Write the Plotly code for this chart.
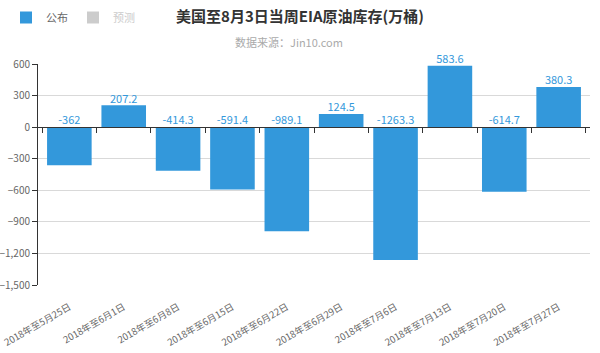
import plotly.graph_objects as go

categories = ["2018年至5月25日", "2018年至6月1日", "2018年至6月8日", "2018年至6月15日",
              "2018年至6月22日", "2018年至6月29日", "2018年至7月6日", "2018年至7月13日",
              "2018年至7月20日", "2018年至7月27日"]
published = [-362, 207.2, -414.3, -591.4, -989.1, 124.5, -1263.3, 583.6, -614.7, 380.3]
forecast = [None] * len(categories)
y_ticks = [600, 300, 0, -300, -600, -900, -1200, -1500]

BLUE = "#3398DB"
FONT = "Noto Sans CJK SC"
ymin, ymax = -1500, 600
L, R, T, B = 38, 10, 64, 68
PW, PH = 600 - L - R, 353 - T - B

fig = go.Figure()
fig.add_trace(go.Bar(x=categories, y=published, name="公布", marker_color=BLUE,
                     marker_line_width=0, hoverinfo="x+y"))
fig.add_trace(go.Bar(x=categories, y=forecast, name="<span style='color:#cccccc'>预测</span>",
                     marker_color="#cccccc", marker_line_width=0))
fig.add_trace(go.Scatter(x=categories, y=[max(v, 0) for v in published],
                         text=[f"{v:g}" for v in published], mode="text",
                         textposition="top center", cliponaxis=False,
                         textfont=dict(color=BLUE, size=11, family=FONT),
                         showlegend=False, hoverinfo="skip"))
# axis with ticks drawn on the zero line
fig.add_trace(go.Scatter(x=categories, y=[None] * len(categories), xaxis="x2",
                         showlegend=False, hoverinfo="skip"))

fig.update_layout(
    width=600, height=353,
    margin=dict(l=L, r=R, t=T, b=B, autoexpand=False),
    paper_bgcolor="white", plot_bgcolor="white",
    font=dict(family=FONT, color="#666666", size=10),
    barmode="overlay", bargap=0.18,
    title=dict(text="<b>美国至8月3日当周EIA原油库存(万桶)</b>", x=0.5, xanchor="center",
               y=1 - 17 / 353, yanchor="middle",
               font=dict(size=15, color="#333333", family=FONT)),
    annotations=[dict(text="数据来源：Jin10.com", xref="paper", yref="paper",
                      x=(289 - L) / PW, y=1 + (T - 42) / PH, xanchor="center",
                      yanchor="middle", showarrow=False,
                      font=dict(size=11, color="#aaaaaa", family=FONT))],
    legend=dict(orientation="h", x=(6 - L) / PW, y=1 + (T - 3) / PH,
                xanchor="left", yanchor="top",
                font=dict(size=11, color="#666666", family=FONT),
                itemwidth=30, bgcolor="rgba(0,0,0,0)"),
    xaxis=dict(type="category", categoryorder="array", categoryarray=categories,
               tickangle=-30, showgrid=False, showline=False, ticks="",
               automargin=False, ticklabelstandoff=14,
               tickfont=dict(size=9.5, color="#666666", family=FONT)),
    xaxis2=dict(type="category", categoryorder="array", categoryarray=categories,
                overlaying="x", anchor="free", position=(0 - ymin) / (ymax - ymin),
                side="bottom", showticklabels=False, ticks="outside", ticklen=5,
                tickcolor="#333333", tickson="boundaries", showline=True,
                linecolor="#333333", linewidth=1, showgrid=False, matches="x",
                automargin=False),
    yaxis=dict(range=[ymin, ymax], tickvals=y_ticks, tickformat=",d",
               showgrid=True, gridcolor="#d9d9d9", gridwidth=1,
               showline=True, linecolor="#333333", linewidth=1,
               ticks="outside", ticklen=5, tickcolor="#333333", automargin=False,
               zeroline=False, tickfont=dict(size=10, color="#666666", family=FONT)),
)

fig.write_html("out.html")
